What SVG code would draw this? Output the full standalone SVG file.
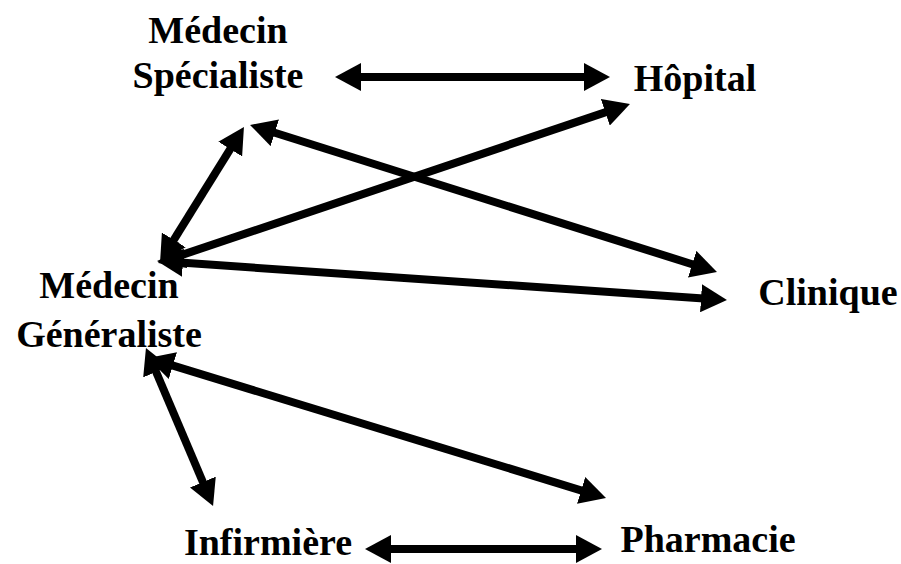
<svg xmlns="http://www.w3.org/2000/svg" width="901" height="564" viewBox="0 0 901 564">
<style>
  text { font-family: "Liberation Serif", "Times New Roman", serif; font-weight: bold; font-size: 38px; fill: #000; text-anchor: middle; }
  .c { stroke: #000; stroke-width: 8; fill: none; marker-start: url(#ah); marker-end: url(#ah); }
</style>
<defs>
  <marker id="ah" markerUnits="userSpaceOnUse" markerWidth="26" markerHeight="28" viewBox="0 0 26 28" refX="10" refY="14" orient="auto-start-reverse">
    <path d="M0,0 L26,14 L0,28 z" fill="#000"/>
  </marker>
</defs>
<rect width="901" height="564" fill="#fff"/>
<g id="connectors">
  <line class="c" x1="351" y1="77" x2="594" y2="77"/>
  <line class="c" x1="235.5" y1="140.6" x2="168.5" y2="248.4"/>
  <line class="c" x1="265.3" y1="129.8" x2="701.7" y2="267.2"/>
  <line class="c" x1="173.2" y1="257.9" x2="614.8" y2="109.1"/>
  <line class="c" x1="173" y1="262.1" x2="711" y2="298.9"/>
  <line class="c" x1="163.3" y1="362.7" x2="590.7" y2="493.3"/>
  <line class="c" x1="152.2" y1="362.7" x2="206.8" y2="491.3"/>
  <line class="c" x1="381" y1="549" x2="586" y2="549"/>
</g>
<g id="medecin-specialiste">
  <text x="218" y="43">Médecin</text>
  <text x="218" y="88">Spécialiste</text>
</g>
<g id="hopital"><text x="695" y="91">Hôpital</text></g>
<g id="medecin-generaliste">
  <text x="109" y="298">Médecin</text>
  <text x="109" y="347">Généraliste</text>
</g>
<g id="clinique"><text x="828" y="305">Clinique</text></g>
<g id="infirmiere"><text x="268" y="555">Infirmière</text></g>
<g id="pharmacie"><text x="708" y="552">Pharmacie</text></g>
</svg>
